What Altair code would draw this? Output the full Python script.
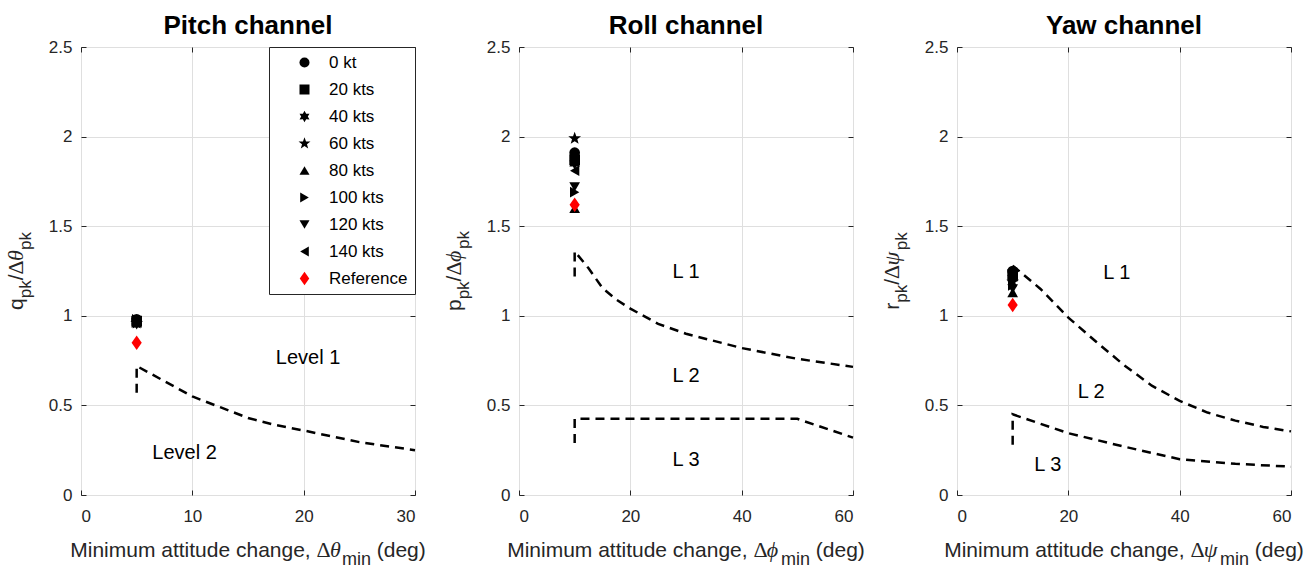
import math
import altair as alt
import pandas as pd

FONT = "Liberation Sans"
SERIF = "Liberation Serif"
INK = "#262626"

# ---- data -------------------------------------------------------------
SERIES = ["0 kt", "20 kts", "40 kts", "60 kts", "80 kts",
          "100 kts", "120 kts", "140 kts", "Reference"]

# quickness (peak rate / peak attitude change) per airspeed, last = reference
pitch_x = 5
pitch_ratio = [0.98, 0.97, 0.97, 0.96, 0.96, 0.98, 0.95, 0.97, 0.85]
roll_x = 10
roll_ratio = [1.91, 1.87, 1.85, 1.99, 1.60, 1.69, 1.72, 1.81, 1.62]
yaw_x = 10
yaw_ratio = [1.25, 1.23, 1.21, 1.19, 1.13, 1.17, 1.15, 1.24, 1.06]

# level boundaries (dashed)
pitch_l12_x = [5, 5, 10, 12.5, 15, 17.5, 20, 25, 30]
pitch_l12_y = [0.57, 0.72, 0.55, 0.49, 0.43, 0.39, 0.36, 0.295, 0.25]
roll_l12_x = [10, 10, 12.5, 15, 17.5, 20, 25, 30, 40, 50, 60]
roll_l12_y = [1.22, 1.36, 1.265, 1.155, 1.09, 1.04, 0.955, 0.90, 0.82, 0.76, 0.715]
roll_l23_x = [10, 10, 50, 60]
roll_l23_y = [0.29, 0.425, 0.425, 0.32]
yaw_l12_x = [10, 15, 20, 25, 30, 35, 40, 45, 50, 55, 60]
yaw_l12_y = [1.28, 1.15, 0.99, 0.855, 0.725, 0.61, 0.525, 0.46, 0.415, 0.38, 0.355]
yaw_l23_x = [10, 10, 20, 30, 40, 50, 60]
yaw_l23_y = [0.28, 0.45, 0.345, 0.27, 0.20, 0.174, 0.158]

# region labels
pitch_labels = ["Level 1", "Level 2"]
pitch_label_x = [20.4, 9.3]
pitch_label_y = [0.763, 0.233]
roll_labels = ["L 1", "L 2", "L 3"]
roll_label_x = [30, 30, 30]
roll_label_y = [1.246, 0.666, 0.195]
yaw_labels = ["L 1", "L 2", "L 3"]
yaw_label_x = [28.7, 24.1, 16.3]
yaw_label_y = [1.24, 0.575, 0.17]

Y_TICKS = [0, 0.5, 1, 1.5, 2, 2.5]
PITCH_X_TICKS = [0, 10, 20, 30]
LATERAL_X_TICKS = [0, 20, 40, 60]

# ---- marker shapes ----------------------------------------------------
def star_path(points, outer, inner):
    pts = []
    for k in range(2 * points):
        a = math.pi * k / points - math.pi / 2
        r = outer if k % 2 == 0 else inner
        pts.append(f"{r * math.cos(a):.3f},{r * math.sin(a):.3f}")
    return "M" + "L".join(pts) + "Z"

HEXAGRAM = star_path(6, 1.15, 0.66)
PENTAGRAM = star_path(5, 1.25, 0.52)
DIAMOND = "M0,-1.35L0.95,0L0,1.35L-0.95,0Z"
SHAPES = ["circle", "square", HEXAGRAM, PENTAGRAM, "triangle-up",
          "triangle-right", "triangle-down", "triangle-left", DIAMOND]
COLORS = ["black"] * 8 + ["#ff0000"]

W, H = 334, 448

# ---- text layout helpers for titles with subscripts --------------------
ADV = {'M': 833, 'i': 222, 'n': 556, 'm': 833, 'u': 556, ' ': 278, 'a': 556,
       't': 278, 'd': 556, 'e': 556, 'c': 500, 'h': 556, 'g': 556, ',': 278,
       '(': 333, ')': 333, 'q': 556, 'p': 556, 'k': 500, '/': 278, 'r': 333,
       'Δ': 612, 'θ': 500, 'ϕ': 600, 'ψ': 690}


def seg_width(text, size):
    return sum(ADV.get(ch, 556) for ch in text) * size / 1000.0


def seg_chart(text, px, py, size, font, style, angle):
    return alt.Chart(pd.DataFrame({"label": [text]})).mark_text(
        align="left", baseline="alphabetic", font=font, fontSize=size,
        fontStyle=style, angle=angle, color=INK,
    ).encode(text="label:N", x=alt.value(px), y=alt.value(py))


def layout(segs):
    """Advance along a run of (text, size, font, style, drop, gap_before)."""
    total = sum(seg_width(s[0], s[1]) + s[5] for s in segs)
    pos, out = 0.0, []
    for text, size, font, style, drop, gap in segs:
        pos += gap
        out.append((text, size, font, style, drop, pos))
        pos += seg_width(text, size)
    return total, out


def x_title(greek):
    segs = [("Minimum attitude change,", 21, FONT, "normal", 0, 0),
            ("Δ", 22, SERIF, "normal", 0, 5.8),
            (greek, 22, SERIF, "italic", 0, 0),
            ("min", 18, FONT, "normal", 8, 1),
            ("(deg)", 21, FONT, "normal", 0, 5.8)]
    total, placed = layout(segs)
    x0 = W / 2 - total / 2
    base = H + 61.5
    return [seg_chart(t, x0 + p, base + d, s, f, st, 0)
            for t, s, f, st, d, p in placed]


def y_title(rate, greek):
    segs = [(rate, 21, FONT, "normal", 0, 0),
            ("pk", 17, FONT, "normal", 8, 0),
            ("/", 21, FONT, "normal", 0, 0),
            ("Δ", 22, SERIF, "normal", 0, 0),
            (greek, 22, SERIF, "italic", 0, 0),
            ("pk", 17, FONT, "normal", 8, 0)]
    total, placed = layout(segs)
    y0 = H / 2 + total / 2
    base = -58
    return [seg_chart(t, base + d, y0 - p, s, f, st, 270)
            for t, s, f, st, d, p in placed]


# ---- one panel ---------------------------------------------------------
def panel(title, x_max, x_ticks, px, ratios, bounds, labels, lx, ly,
          rate, greek, show_legend):
    xs = alt.Scale(domain=[0, x_max], nice=False, zero=False)
    ys = alt.Scale(domain=[0, 2.5], nice=False, zero=False)

    # ticks point inward: each axis is pulled 5px inside the frame
    x_bottom = alt.Axis(orient="bottom", values=x_ticks, offset=-5, tickSize=5,
                        domain=False, grid=True, labelPadding=13, title=None,
                        format=".1~f")
    y_left = alt.Axis(orient="left", values=Y_TICKS, offset=-5, tickSize=5,
                      domain=False, grid=True, labelPadding=9, title=None,
                      format=".1~f")
    x_top = alt.Axis(orient="top", values=x_ticks, offset=-5, tickSize=5,
                     domain=False, grid=False, labels=False, title=None,
                     minExtent=0, maxExtent=0)
    y_right = alt.Axis(orient="right", values=Y_TICKS, offset=-5, tickSize=5,
                       domain=False, grid=False, labels=False, title=None,
                       minExtent=0, maxExtent=0)

    rows = []
    for gi, (bx, by) in enumerate(bounds):
        for k, (a, b) in enumerate(zip(bx, by)):
            rows.append({"grp": gi, "seq": k, "x": a, "y": b})
    lines = alt.Chart(pd.DataFrame(rows)).mark_line(
        color="black", strokeWidth=2.5, strokeDash=[9, 6],
    ).encode(
        x=alt.X("x:Q", scale=xs, axis=x_bottom),
        y=alt.Y("y:Q", scale=ys, axis=y_left),
        detail="grp:N",
        order="seq:Q",
    )

    lab = alt.Chart(pd.DataFrame({"text": labels, "x": lx, "y": ly})).mark_text(
        font=FONT, fontSize=20, color="black", align="center", baseline="middle",
    ).encode(
        x=alt.X("x:Q", scale=xs, axis=x_top),
        y=alt.Y("y:Q", scale=ys, axis=y_right),
        text="text:N",
    )

    if show_legend:
        legend = alt.Legend(
            title=None, orient="top-right", offset=0, padding=7, rowPadding=9,
            labelFont=FONT, labelFontSize=17, labelColor="black",
            symbolSize=100, symbolStrokeWidth=0, symbolOffset=20,
            labelOffset=16, labelLimit=300, strokeColor=INK, fillColor="white",
        )
    else:
        legend = None

    pts_df = pd.DataFrame({"speed": SERIES, "x": [px] * len(SERIES),
                           "ratio": ratios, "n": list(range(len(SERIES)))})
    pts = alt.Chart(pts_df).mark_point(filled=True, size=115, opacity=1).encode(
        x=alt.X("x:Q", scale=xs, axis=None),
        y=alt.Y("ratio:Q", scale=ys, axis=None),
        shape=alt.Shape("speed:N", scale=alt.Scale(domain=SERIES, range=SHAPES),
                        legend=legend),
        color=alt.Color("speed:N", scale=alt.Scale(domain=SERIES, range=COLORS),
                        legend=legend),
        order="n:Q",
    )

    layers = [lines, lab, pts] + x_title(greek) + y_title(rate, greek)
    return alt.layer(*layers).resolve_axis(
        x="independent", y="independent"
    ).properties(
        width=W, height=H,
        title=alt.TitleParams(title, font=FONT, fontSize=26, fontWeight="bold",
                              color="black", anchor="middle", frame="group",
                              baseline="alphabetic", offset=-22),
    )


pitch = panel("Pitch channel", 30, PITCH_X_TICKS, pitch_x, pitch_ratio,
              [(pitch_l12_x, pitch_l12_y)], pitch_labels, pitch_label_x,
              pitch_label_y, "q", "θ", True)
roll = panel("Roll channel", 60, LATERAL_X_TICKS, roll_x, roll_ratio,
             [(roll_l12_x, roll_l12_y), (roll_l23_x, roll_l23_y)], roll_labels,
             roll_label_x, roll_label_y, "p", "ϕ", False)
yaw = panel("Yaw channel", 60, LATERAL_X_TICKS, yaw_x, yaw_ratio,
            [(yaw_l12_x, yaw_l12_y), (yaw_l23_x, yaw_l23_y)], yaw_labels,
            yaw_label_x, yaw_label_y, "r", "ψ", False)

chart = alt.hconcat(pitch, roll, yaw, spacing=104, bounds="flush").resolve_scale(
    color="independent", shape="independent"
).resolve_legend(
    color="independent", shape="independent"
).configure_view(
    stroke=INK, strokeWidth=1,
).configure_axis(
    labelFont=FONT, labelFontSize=17, labelColor=INK,
    tickColor=INK, tickWidth=1, gridColor="#dfdfdf", gridWidth=1,
).properties(
    padding={"left": 4, "top": 12, "right": 4, "bottom": 0},
    background="white",
)

chart.save("out.html", embed_options={"renderer": "svg", "actions": False})
